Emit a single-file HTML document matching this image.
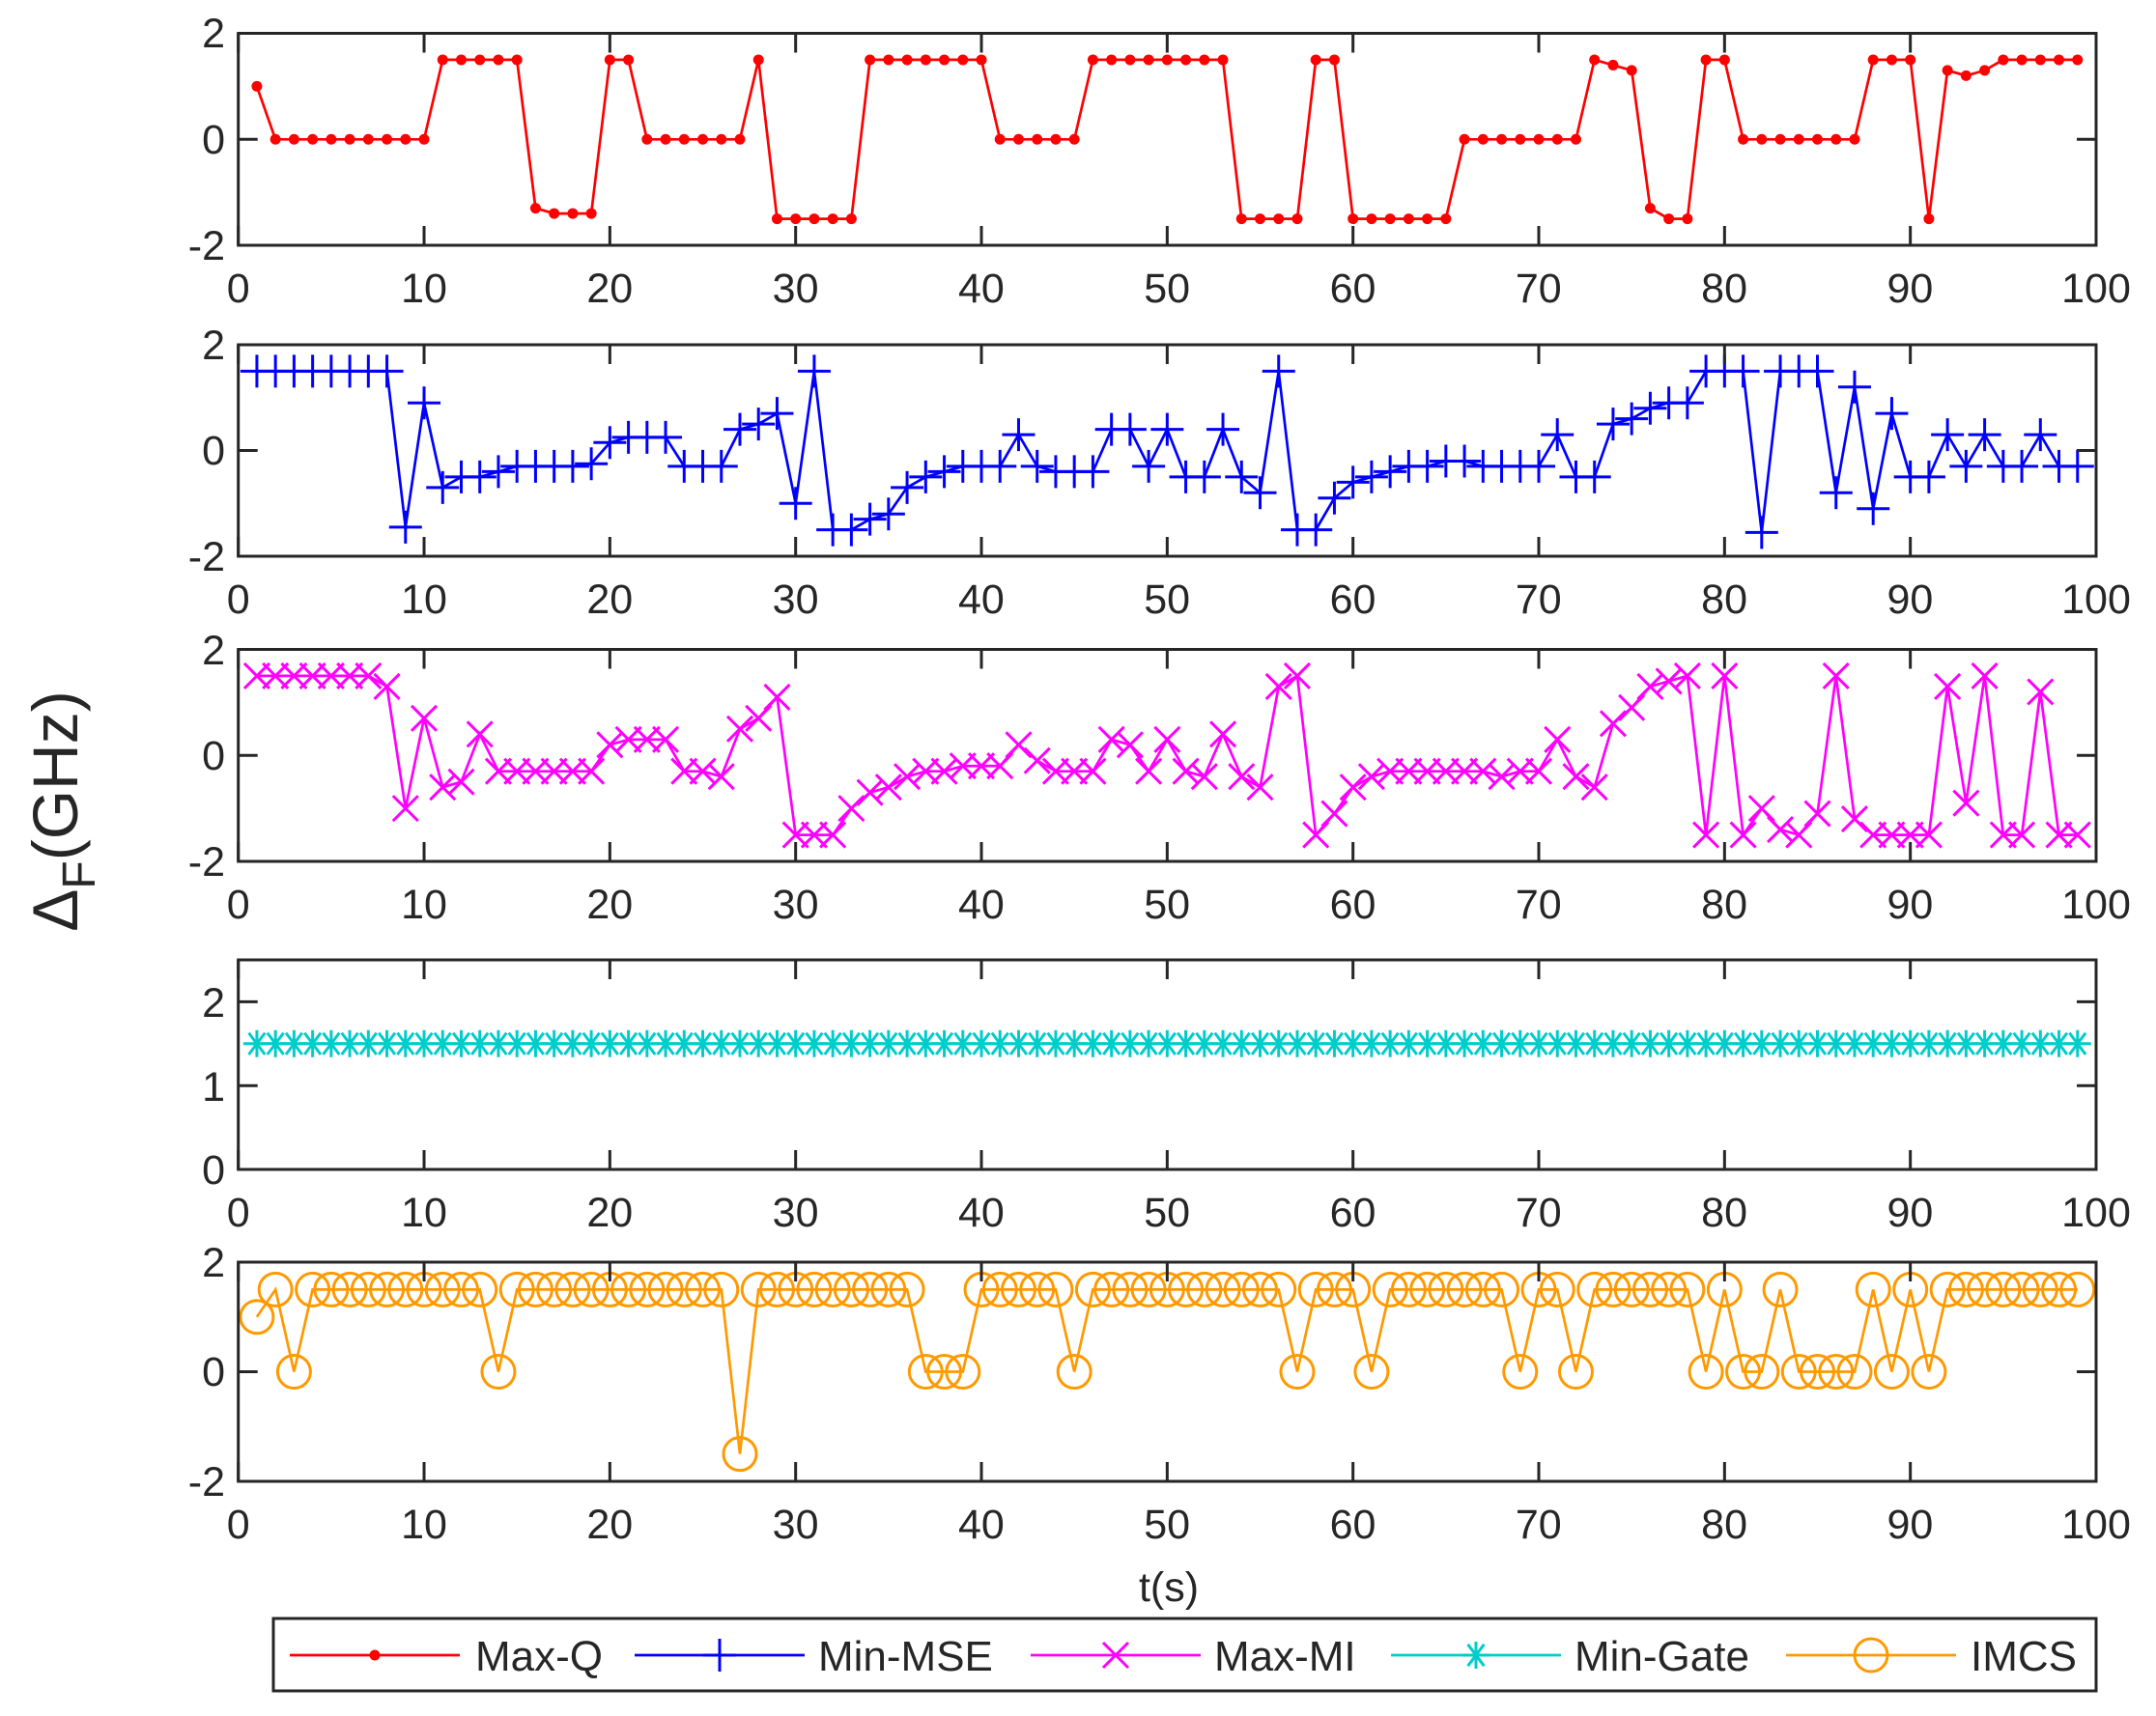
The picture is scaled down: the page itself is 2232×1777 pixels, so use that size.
<!DOCTYPE html>
<html><head><meta charset="utf-8"><style>
html,body{margin:0;padding:0;background:#fff;}
svg{display:block;}
text{font-family:"Liberation Sans",Arial,sans-serif;fill:#262626;}
</style></head><body>
<svg id="s" width="2232" height="1777" viewBox="0 0 2232 1777" xmlns="http://www.w3.org/2000/svg">
<g id="plots"></g>
<g font-size="43">
<text x="233" y="49" text-anchor="end">2</text>
<text x="233" y="159" text-anchor="end">0</text>
<text x="233" y="269" text-anchor="end">-2</text>
<text x="233" y="372" text-anchor="end">2</text>
<text x="233" y="481" text-anchor="end">0</text>
<text x="233" y="591" text-anchor="end">-2</text>
<text x="233" y="688" text-anchor="end">2</text>
<text x="233" y="797" text-anchor="end">0</text>
<text x="233" y="907" text-anchor="end">-2</text>
<text x="233" y="1053" text-anchor="end">2</text>
<text x="233" y="1140" text-anchor="end">1</text>
<text x="233" y="1226" text-anchor="end">0</text>
<text x="233" y="1322" text-anchor="end">2</text>
<text x="233" y="1435" text-anchor="end">0</text>
<text x="233" y="1549" text-anchor="end">-2</text>
</g>
<g font-size="43" text-anchor="middle">
<g transform="translate(0,313)"><text x="246.7">0</text><text x="439">10</text><text x="631.3">20</text><text x="823.6">30</text><text x="1015.9">40</text><text x="1208.2">50</text><text x="1400.5">60</text><text x="1592.8">70</text><text x="1785.1">80</text><text x="1977.4">90</text><text x="2170">100</text></g>
<g transform="translate(0,635)"><text x="246.7">0</text><text x="439">10</text><text x="631.3">20</text><text x="823.6">30</text><text x="1015.9">40</text><text x="1208.2">50</text><text x="1400.5">60</text><text x="1592.8">70</text><text x="1785.1">80</text><text x="1977.4">90</text><text x="2170">100</text></g>
<g transform="translate(0,951)"><text x="246.7">0</text><text x="439">10</text><text x="631.3">20</text><text x="823.6">30</text><text x="1015.9">40</text><text x="1208.2">50</text><text x="1400.5">60</text><text x="1592.8">70</text><text x="1785.1">80</text><text x="1977.4">90</text><text x="2170">100</text></g>
<g transform="translate(0,1270)"><text x="246.7">0</text><text x="439">10</text><text x="631.3">20</text><text x="823.6">30</text><text x="1015.9">40</text><text x="1208.2">50</text><text x="1400.5">60</text><text x="1592.8">70</text><text x="1785.1">80</text><text x="1977.4">90</text><text x="2170">100</text></g>
<g transform="translate(0,1593)"><text x="246.7">0</text><text x="439">10</text><text x="631.3">20</text><text x="823.6">30</text><text x="1015.9">40</text><text x="1208.2">50</text><text x="1400.5">60</text><text x="1592.8">70</text><text x="1785.1">80</text><text x="1977.4">90</text><text x="2170">100</text></g>
<text x="1210" y="1658">t(s)</text>
</g>
<text font-size="66" transform="translate(80,840) rotate(-90)" text-anchor="middle">Δ<tspan font-size="48" dy="18">F</tspan><tspan dy="-18">(GHz)</tspan></text>
<rect x="283" y="1676" width="1887" height="75" fill="#fff" stroke="#262626" stroke-width="3"/>
<g font-size="44" style="fill:#000">
<text x="492" y="1730">Max-Q</text>
<text x="847" y="1730">Min-MSE</text>
<text x="1257" y="1730">Max-MI</text>
<text x="1630" y="1730">Min-Gate</text>
<text x="2040" y="1730">IMCS</text>
</g>
<g id="leg"></g>
</svg>
<script>
const NS="http://www.w3.org/2000/svg";
const g=document.getElementById('plots');
const X0=246.7,X1=2170;
const xs=t=>X0+(X1-X0)*t/100;
function el(tag,attrs,parent){const e=document.createElementNS(NS,tag);for(const k in attrs)e.setAttribute(k,attrs[k]);(parent||g).appendChild(e);return e;}
function marker(type,x,y,c,parent){
  if(type==='dot'){el('circle',{cx:x,cy:y,r:5.5,fill:c},parent);}
  else if(type==='plus'){const h=17;el('path',{d:`M${x-h},${y}H${x+h}M${x},${y-h}V${y+h}`,stroke:c,'stroke-width':3,fill:'none'},parent);}
  else if(type==='x'){const h=13;el('path',{d:`M${x-h},${y-h}L${x+h},${y+h}M${x-h},${y+h}L${x+h},${y-h}`,stroke:c,'stroke-width':3,fill:'none'},parent);}
  else if(type==='star'){const h=14;el('path',{d:`M${x-h},${y}H${x+h}M${x},${y-h}V${y+h}M${x-h*0.6},${y-h*0.8}L${x+h*0.6},${y+h*0.8}M${x-h*0.6},${y+h*0.8}L${x+h*0.6},${y-h*0.8}`,stroke:c,'stroke-width':3,fill:'none'},parent);}
  else if(type==='o'){el('circle',{cx:x,cy:y,r:17,fill:'none',stroke:c,'stroke-width':3},parent);}
}
function panel(top,bot,ymin,ymax,yticks,data,color,mk){
  const ys=v=>bot-(v-ymin)/(ymax-ymin)*(bot-top);
  let d='';data.forEach((v,i)=>{d+=(i?'L':'M')+xs(i+1).toFixed(1)+','+ys(v).toFixed(1);});
  el('path',{d:d,stroke:color,'stroke-width':2.7,fill:'none'});
  data.forEach((v,i)=>marker(mk,xs(i+1),ys(v),color));
  el('rect',{x:X0,y:top,width:X1-X0,height:bot-top,fill:'none',stroke:'#262626','stroke-width':3});
  let t='';
  for(let k=0;k<=100;k+=10){const x=xs(k);t+=`M${x},${bot}v-20M${x},${top}v20`;}
  yticks.forEach(v=>{const y=ys(v);t+=`M${X0},${y}h20M${X1},${y}h-20`;});
  el('path',{d:t,stroke:'#262626','stroke-width':3,fill:'none'});
}
function expand(spec){const a=[];spec.forEach(([v,n])=>{for(let i=0;i<n;i++)a.push(v);});return a;}
const maxq=expand([[1,1],[0,9],[1.5,5],[-1.3,1],[-1.4,3],[1.5,2],[0,6],[1.5,1],[-1.5,5],[1.5,7],[0,5],[1.5,8],[-1.5,4],[1.5,2],[-1.5,6],[0,7],[1.5,1],[1.4,1],[1.3,1],[-1.3,1],[-1.5,2],[1.5,2],[0,7],[1.5,3],[-1.5,1],[1.3,1],[1.2,1],[1.3,1],[1.5,5]]);
const mse=[1.5,1.5,1.5,1.5,1.5,1.5,1.5,1.5,-1.45,0.9,-0.7,-0.5,-0.5,-0.4,-0.3,-0.3,-0.3,-0.3,-0.25,0.15,0.25,0.25,0.25,-0.3,-0.3,-0.3,0.4,0.5,0.7,-1.0,1.5,-1.5,-1.5,-1.3,-1.2,-0.7,-0.5,-0.4,-0.3,-0.3,-0.3,0.3,-0.3,-0.4,-0.4,-0.4,0.4,0.4,-0.3,0.4,-0.5,-0.5,0.4,-0.5,-0.8,1.5,-1.5,-1.5,-0.9,-0.6,-0.5,-0.4,-0.3,-0.3,-0.2,-0.2,-0.3,-0.3,-0.3,-0.3,0.3,-0.5,-0.5,0.5,0.6,0.8,0.9,0.9,1.5,1.5,1.5,-1.55,1.5,1.5,1.5,-0.8,1.2,-1.1,0.7,-0.5,-0.5,0.3,-0.3,0.3,-0.3,-0.3,0.3,-0.3,-0.3];
const mi=[1.5,1.5,1.5,1.5,1.5,1.5,1.5,1.3,-1.0,0.7,-0.6,-0.5,0.4,-0.3,-0.3,-0.3,-0.3,-0.3,-0.3,0.2,0.3,0.3,0.3,-0.3,-0.3,-0.4,0.5,0.7,1.1,-1.5,-1.5,-1.5,-1.0,-0.7,-0.6,-0.4,-0.3,-0.3,-0.2,-0.2,-0.2,0.2,-0.1,-0.3,-0.3,-0.3,0.3,0.2,-0.3,0.3,-0.3,-0.4,0.4,-0.4,-0.6,1.3,1.5,-1.5,-1.1,-0.6,-0.4,-0.3,-0.3,-0.3,-0.3,-0.3,-0.3,-0.4,-0.3,-0.3,0.3,-0.4,-0.6,0.6,0.9,1.3,1.4,1.5,-1.5,1.5,-1.5,-1.0,-1.4,-1.5,-1.1,1.5,-1.2,-1.5,-1.5,-1.5,-1.5,1.3,-0.9,1.5,-1.5,-1.5,1.2,-1.5,-1.5];
const gate=expand([[1.5,99]]);
const imcs=expand([[1,1],[1.5,1],[0,1],[1.5,10],[0,1],[1.5,12],[-1.5,1],[1.5,9],[0,3],[1.5,5],[0,1],[1.5,11],[0,1],[1.5,3],[0,1],[1.5,7],[0,1],[1.5,2],[0,1],[1.5,6],[0,1],[1.5,1],[0,2],[1.5,1],[0,4],[1.5,1],[0,1],[1.5,1],[0,1],[1.5,8]]);
panel(34.5,254,-2,2,[-2,0,2],maxq,'#ff0000','dot');
panel(357,576,-2,2,[-2,0,2],mse,'#0000ff','plus');
panel(672.5,892,-2,2,[-2,0,2],mi,'#ff00ff','x');
panel(994,1211,0,2.5,[0,1,2],gate,'#00cccc','star');
panel(1307,1534,-2,2,[-2,0,2],imcs,'#ff9900','o');
const lg=document.getElementById('leg');
[[300,'#ff0000','dot'],[657,'#0000ff','plus'],[1067,'#ff00ff','x'],[1440,'#00cccc','star'],[1849,'#ff9900','o']].forEach(([x,c,m])=>{
  el('path',{d:`M${x},1714h176`,stroke:c,'stroke-width':2.7},lg);
  marker(m,x+88,1714,c,lg);
});
</script>
</body></html>
